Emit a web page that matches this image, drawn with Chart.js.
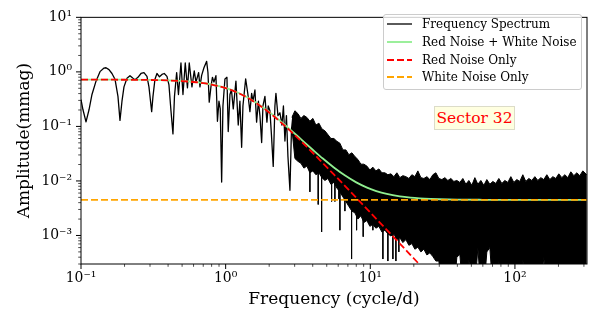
<!DOCTYPE html>
<html>
<head>
<meta charset="utf-8">
<script src="https://cdn.jsdelivr.net/npm/chart.js@4.4.1/dist/chart.umd.min.js"></script>
<style>
  body { margin: 0; background: #fff; }
  #wrap { position: relative; width: 598px; height: 320px; font-family: 'DejaVu Serif', serif; }
  #legend { position: absolute; left: 383px; top: 14px; width: 197px; height: 73px; padding-top: 0.5px;
            border: 1px solid #cccccc; border-radius: 3px; background: rgba(255,255,255,0.8); }
  .row { height: 17.7px; display: flex; align-items: center; font-size: 12px; color: #000; white-space: nowrap; }
  .row svg { margin-left: 3px; margin-right: 10px; flex: none; }
  #sector { position: absolute; left: 434px; top: 106px; width: 81px; height: 24px; box-sizing: border-box;
            border: 1px solid #dcdcc8; background: #ffffe0; color: #ff0000; font-size: 15.5px;
            display: flex; align-items: center; justify-content: center; white-space: nowrap; }
</style>
</head>
<body>
<div id="wrap">
  <canvas id="chart" width="598" height="320"></canvas>
  <div id="legend"></div>
  <div id="sector">Sector 32</div>
</div>
<script>
// axes
const xTickValues = [0.1, 1, 10, 100];
const xTickLabels = ['10⁻¹', '10⁰', '10¹', '10²'];
const yTickValues = [0.001, 0.01, 0.1, 1, 10];
const yTickLabels = ['10⁻³', '10⁻²', '10⁻¹', '10⁰', '10¹'];

// resolved low-frequency part of the spectrum (cycle/d, mmag)
const specFreq = [0.100,0.1032,0.1083,0.1136,0.1191,0.1270,0.1353,0.1442,0.1489,0.1561,
  0.1637,0.1718,0.1801,0.1860,0.1920,0.1982,0.2079,0.2181,0.2288,0.2361,
  0.2476,0.2599,0.2725,0.2858,0.2950,0.3080,0.3145,0.3246,0.3351,0.3487,
  0.3629,0.3764,0.3929,0.4056,0.4188,0.4323,0.4428,0.4585,0.4718,0.4910,
  0.5069,0.5258,0.5445,0.5603,0.5849,0.6067,0.6234,0.6507,0.6643,0.6825,
  0.7079,0.7390,0.7545,0.7701,0.7912,0.8103,0.8300,0.8569,0.8776,0.8988,
  0.9178,0.9384,0.9579,0.9889,1.021,1.042,1.071,1.097,1.129,1.178,
  1.222,1.255,1.290,1.317,1.375,1.426,1.472,1.513,1.544,1.594,
  1.637,1.685,1.726,1.774,1.811,1.869,1.929,1.970,2.024,2.073,
  2.133,2.191,2.227,2.299,2.373,2.450,2.509,2.570,2.632,2.696,
  2.783,2.851,2.919];
const specAmp = [0.311,0.202,0.121,0.202,0.385,0.676,1.01,1.175,1.19,1.10,
  0.934,0.733,0.355,0.129,0.290,0.531,0.763,0.851,0.763,0.719,
  0.795,0.934,0.972,0.828,0.531,0.186,0.355,0.733,0.934,0.811,
  0.897,0.934,0.828,0.576,0.194,0.0727,0.355,0.972,0.385,1.455,
  0.385,1.455,0.510,1.455,0.531,1.041,0.650,0.972,0.531,0.861,
  1.19,1.558,0.972,0.279,0.531,0.795,0.650,0.851,0.124,0.290,
  0.210,0.00957,0.237,0.742,0.795,0.0807,0.385,0.471,0.210,0.676,
  0.106,0.290,0.0414,0.237,0.742,0.385,0.186,0.405,0.290,0.465,
  0.1195,0.290,0.158,0.0506,0.237,0.355,0.1195,0.237,0.194,0.0707,
  0.01846,0.237,0.405,0.158,0.178,0.106,0.237,0.054,0.158,0.028,
  0.00674,0.0865,0.158];

// dense part: top and bottom edge of the black band
const bandFreq = [2.872,3.012,3.159,3.314,3.476,3.646,3.824,
  4.011,4.207,4.413,4.629,4.855,5.093,5.342,5.603,5.877,6.165,
  6.466,6.782,7.114,7.462,7.827,8.209,8.611,9.032,9.474,9.937,
  10.42,10.93,11.47,12.03,12.62,13.23,13.88,14.56,15.27,16.02,
  16.80,17.62,18.49,19.39,20.34,21.33,22.38,23.47,24.62,25.82,
  27.08,28.41,29.80,31.26,32.78,34.39,36.06,37.83,39.68,41.61,
  43.65,45.79,48.03,50.37,52.84,55.42,58.13,60.97,63.95,67.08,
  70.36,73.80,77.41,81.20,85.17,89.33,93.70,98.26,103.1,108.1,
  113.4,118.9,124.8,130.9,137.3,144.0,151.0,158.4,166.2,174.3,
  182.8,191.8,201.1,211.0,221.3,232.1,243.5,255.4,267.9,281.0,
  294.7,314.0];
const bandTop = [0.1461,0.1937,0.1717,0.1403,0.1583,0.1461,0.1244,
  0.1403,0.1058,0.1147,0.0901,0.0831,0.0707,0.0601,0.0601,0.0533,0.0492,
  0.0371,0.0371,0.0303,0.0328,0.0280,0.0248,0.0203,0.0203,0.0187,0.0159,
  0.0179,0.0153,0.0166,0.0141,0.0141,0.0130,0.0135,0.0120,0.0141,0.0115,
  0.0125,0.0120,0.0111,0.0130,0.0120,0.0153,0.0115,0.0111,0.0120,0.0106,
  0.0130,0.0141,0.0111,0.0106,0.0115,0.0102,0.0111,0.0098,0.0102,0.0094,
  0.0111,0.0087,0.0102,0.0083,0.0115,0.0087,0.0102,0.0083,0.0106,0.0087,
  0.0098,0.0090,0.0111,0.0090,0.0102,0.0094,0.0120,0.0094,0.0106,0.0098,
  0.0130,0.0098,0.0111,0.0102,0.0120,0.0102,0.0115,0.0106,0.0130,0.0106,
  0.0120,0.0111,0.0135,0.0115,0.0130,0.0115,0.0147,0.0125,0.0141,0.0125,
  0.0153,0.0130];
const bandBottom = [0.0900,0.0258,0.0229,0.0211,0.0172,0.0187,0.0141,
  0.0153,0.0130,0.0141,0.0115,0.0102,0.0111,0.0087,0.0094,0.0074,0.0063,
  0.0051,0.0042,0.0034,0.0028,0.0026,0.0020,0.0023,0.00173,0.00188,0.00147,
  0.00160,0.00136,0.00147,0.00116,0.00125,0.00107,0.00098,0.00107,0.00084,0.00091,
  0.00074,0.00084,0.00066,0.00071,0.00056,0.00061,0.00050,0.00056,0.00044,0.00048,
  0.00041,0.00034,0.00034,0.0001,0.0001,0.0001,0.0001,0.0001,0.00040,0.00045,
  0.0001,0.0001,0.00036,0.0001,0.0001,0.00060,0.0001,0.0001,0.00050,0.00060,
  0.0001,0.0001,0.00034,0.0001,0.0001,0.0001,0.0001,0.0001,0.0001,0.0001,
  0.00036,0.0001,0.0001,0.0001,0.0001,0.0001,0.0001,0.00040,0.0001,0.0001,
  0.0001,0.0001,0.0001,0.0001,0.0001,0.0001,0.0001,0.0001,0.0001,0.0001,
  0.0001,0.0001];

// isolated deep dips below the band
const spikeFreq = [3.824,4.365,4.608,5.403,5.693,6.067,6.165,6.675,7.425,8.041,8.932,10.42,12.22,13.23,14.33,15.03,15.76];
const spikeTop = [0.02,0.02,0.015,0.012,0.01,0.01,0.01,0.008,0.006,0.005,0.004,0.003,0.002,0.002,0.002,0.002,0.002];
const spikeBottom = [0.0063,0.0037,0.00116,0.0042,0.0042,0.0047,0.00125,0.0028,0.00037,0.00125,0.00095,0.00125,0.00037,0.00034,0.00037,0.00034,0.0005];

// fitted noise models
const modelFreq = [0.1,0.15,0.2,0.3,0.4,0.5,0.6,0.7,0.8,0.9,1.0,1.2,1.4,1.7,2.0,2.4,2.8,3.3,4.0,4.7,
  5.6,6.7,8.0,9.5,11,13,16,19,22,26,30,40,60,100,200,315];
const redNoise = [0.7195,0.7185,0.7166,0.7095,0.6969,0.678,0.6527,0.621,0.585,0.545,
  0.503,0.419,0.342,0.2477,0.180,0.1198,0.0827,0.0545,0.0329,0.02124,
  0.01316,0.00803,0.0049,0.00304,0.00202,0.001267,0.00071,0.000438,0.00029,0.000182,0.000122];
const redWhite = [0.7240,0.7230,0.7211,0.7140,0.7014,0.6825,0.6572,0.6255,0.5895,0.5495,
  0.5075,0.4235,0.3465,0.2522,0.1845,0.1243,0.0872,0.0590,0.0374,0.02574,
  0.01766,0.01253,0.0094,0.00754,0.00652,0.005767,0.00521,0.004938,0.00479,0.004682,
  0.004622,0.00455,0.004515,0.0045,0.0045,0.0045];
const whiteFreq = [0.1, 315];
const whiteNoise = [0.0045, 0.0045];

const SERIF = "'DejaVu Serif', serif";
const pts = (xs, ys) => ys.map((v, i) => ({ x: xs[i], y: v }));

const spikePts = [];
spikeFreq.forEach((f, i) => {
  spikePts.push({ x: f, y: spikeTop[i] }, { x: f, y: spikeBottom[i] }, { x: f, y: null });
});

const datasets = [
  { label: 'White Noise Only', data: pts(whiteFreq, whiteNoise), borderColor: '#ffa500', borderWidth: 1.8, borderDash: [7, 3], order: 1 },
  { label: 'Red Noise Only', data: pts(modelFreq, redNoise), borderColor: '#ff0000', borderWidth: 1.8, borderDash: [7, 3], cubicInterpolationMode: 'monotone', order: 2 },
  { label: 'Red Noise + White Noise', data: pts(modelFreq, redWhite), borderColor: '#90ee90', borderWidth: 1.8, cubicInterpolationMode: 'monotone', order: 3 },
  { label: 'dips', data: spikePts, borderColor: '#000', borderWidth: 1, spanGaps: false, order: 4 },
  { label: 'band top', data: pts(bandFreq, bandTop), borderColor: '#000', borderWidth: 1, fill: '+1', backgroundColor: '#000', order: 5 },
  { label: 'band bottom', data: pts(bandFreq, bandBottom), borderColor: '#000', borderWidth: 1, order: 6 },
  { label: 'Frequency Spectrum', data: pts(specFreq, specAmp), borderColor: '#000', borderWidth: 1.3, order: 7 }
];

// spines + major/minor log ticks (left and bottom only)
const frameTicks = {
  id: 'frameTicks',
  afterDraw(chart) {
    const { ctx, chartArea: a, scales: { x, y } } = chart;
    ctx.save();
    ctx.strokeStyle = '#000';
    ctx.lineWidth = 1;
    ctx.strokeRect(a.left, a.top, a.right - a.left, a.bottom - a.top);
    for (let e = -4; e <= 3; e++) {
      for (let k = 1; k <= 9; k++) {
        const v = k * Math.pow(10, e);
        const len = k === 1 ? 5 : 2.8;
        ctx.lineWidth = k === 1 ? 1 : 0.7;
        if (v >= x.min * 0.999 && v <= x.max) {
          const px = x.getPixelForValue(v);
          ctx.beginPath(); ctx.moveTo(px, a.bottom); ctx.lineTo(px, a.bottom + len); ctx.stroke();
        }
        if (v >= y.min && v <= y.max * 1.001) {
          const py = y.getPixelForValue(v);
          ctx.beginPath(); ctx.moveTo(a.left, py); ctx.lineTo(a.left - len, py); ctx.stroke();
        }
      }
    }
    ctx.restore();
  }
};

const chart = new Chart(document.getElementById('chart'), {
  type: 'line',
  data: { datasets },
  options: {
    responsive: false,
    animation: false,
    devicePixelRatio: 1,
    layout: { padding: { top: 7, right: 11, left: 0, bottom: 0 } },
    elements: { point: { radius: 0 }, line: { tension: 0, borderJoinStyle: 'round' } },
    plugins: { legend: { display: false }, tooltip: { enabled: false } },
    scales: {
      x: {
        type: 'logarithmic', min: 0.1, max: 315,
        afterFit(s) { s.height = 56; },
        afterBuildTicks(s) { s.ticks = xTickValues.map(v => ({ value: v })); },
        ticks: { autoSkip: false, maxRotation: 0, padding: 6, color: '#000', font: { family: SERIF, size: 13.9 },
                 callback: v => xTickLabels[xTickValues.indexOf(v)] ?? '' },
        grid: { display: false, drawTicks: false },
        border: { display: false },
        title: { display: true, text: 'Frequency (cycle/d)', color: '#000', font: { family: SERIF, size: 17 }, padding: { top: 0, bottom: 10 } }
      },
      y: {
        type: 'logarithmic', min: 3.16e-4, max: 10,
        afterFit(s) { s.width = 81; },
        afterBuildTicks(s) { s.ticks = yTickValues.map(v => ({ value: v })); },
        ticks: { autoSkip: false, padding: 9, color: '#000', font: { family: SERIF, size: 13.9 },
                 callback: v => yTickLabels[yTickValues.indexOf(v)] ?? '' },
        grid: { display: false, drawTicks: false },
        border: { display: false },
        title: { display: true, text: 'Amplitude(mmag)', color: '#000', font: { family: SERIF, size: 17 }, padding: { top: 14, bottom: 0 } }
      }
    }
  },
  plugins: [frameTicks]
});

// legend in matplotlib order, built from the datasets
const legendOrder = ['Frequency Spectrum', 'Red Noise + White Noise', 'Red Noise Only', 'White Noise Only'];
const legendBox = document.getElementById('legend');
legendOrder.forEach(name => {
  const ds = datasets.find(d => d.label === name);
  const row = document.createElement('div');
  row.className = 'row';
  const dash = ds.borderDash ? `stroke-dasharray="${ds.borderDash.join(' ')}"` : '';
  row.innerHTML = `<svg width="25" height="10"><line x1="0" y1="5" x2="25" y2="5" stroke="${ds.borderColor}" stroke-width="${ds.borderWidth}" ${dash}/></svg>`;
  const span = document.createElement('span');
  span.textContent = name;
  row.appendChild(span);
  legendBox.appendChild(row);
});
</script>
</body>
</html>
